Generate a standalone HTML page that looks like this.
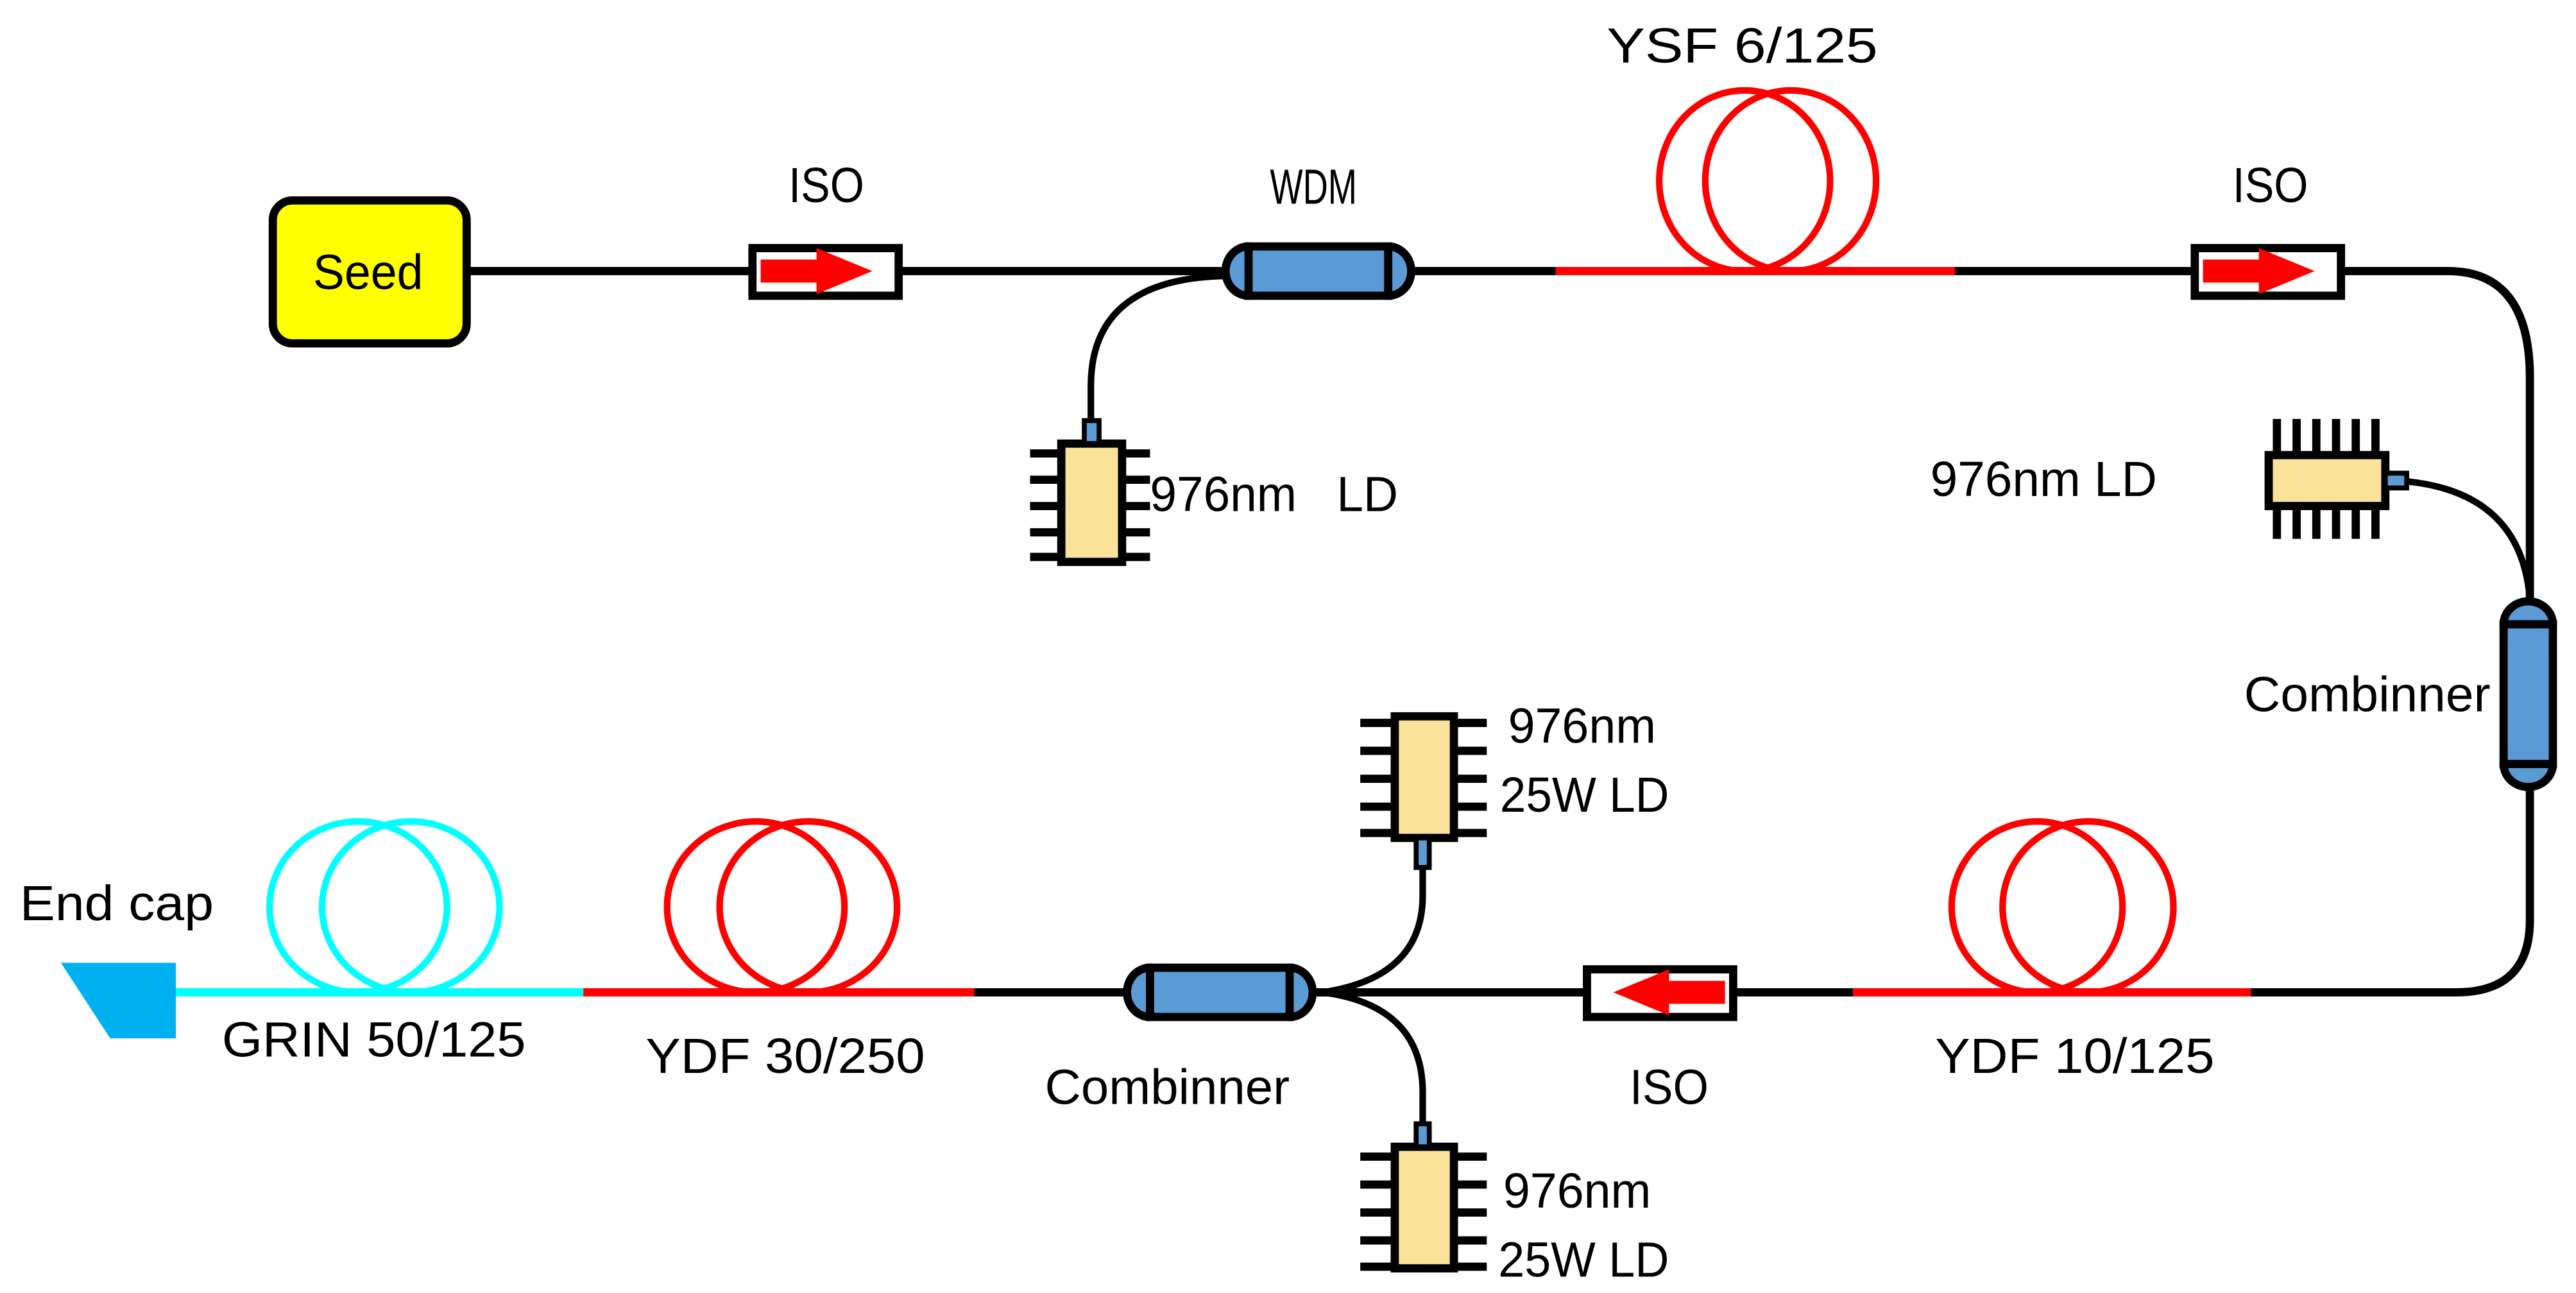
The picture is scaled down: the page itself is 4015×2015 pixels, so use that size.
<!DOCTYPE html>
<html><head><meta charset="utf-8"><style>
html,body{margin:0;padding:0;background:#fff;}
svg{display:block;}
text{font-family:"Liberation Sans",sans-serif;font-size:30px;fill:#000;}
</style></head><body>
<svg width="4015" height="2015" viewBox="0 0 1568 787" xmlns="http://www.w3.org/2000/svg">
<rect width="1568" height="787" fill="#fff"/>
<g fill="none" stroke-linecap="butt">
<path d="M284,165 H457 M547,165 H745 M860,165 H947 M1190,165 H1335" stroke="#000" stroke-width="5"/>
<path d="M947,165 H1190" stroke="#f00" stroke-width="5"/>
<ellipse cx="1062" cy="110" rx="52" ry="55" stroke="#f00" stroke-width="4"/>
<ellipse cx="1090" cy="110" rx="52" ry="55" stroke="#f00" stroke-width="4"/>
<path d="M1425,165 H1490 Q1540,165 1540,230 V365" stroke="#000" stroke-width="5"/>
<path d="M1465,293 Q1535,300 1540,365" stroke="#000" stroke-width="4"/>
<path d="M1540,480 V560 Q1540,604 1495,604 H1370" stroke="#000" stroke-width="5"/>
<path d="M1370,604 H1128" stroke="#f00" stroke-width="5"/>
<ellipse cx="1240" cy="552" rx="52" ry="52" stroke="#f00" stroke-width="4"/>
<ellipse cx="1271" cy="552" rx="52" ry="52" stroke="#f00" stroke-width="4"/>
<path d="M1128,604 H1055 M965,604 H800" stroke="#000" stroke-width="5"/>
<path d="M866,528 V545 Q866,595 805,604" stroke="#000" stroke-width="4"/>
<path d="M866,684 V665 Q866,612 805,604" stroke="#000" stroke-width="4"/>
<path d="M685,604 H593" stroke="#000" stroke-width="5"/>
<path d="M593,604 H355" stroke="#f00" stroke-width="5"/>
<ellipse cx="460" cy="552" rx="54" ry="52" stroke="#f00" stroke-width="4"/>
<ellipse cx="492" cy="552" rx="54" ry="52" stroke="#f00" stroke-width="4"/>
<path d="M355,604 H107" stroke="#00ffff" stroke-width="5"/>
<ellipse cx="218" cy="552" rx="54" ry="52" stroke="#00ffff" stroke-width="4"/>
<ellipse cx="250" cy="552" rx="54" ry="52" stroke="#00ffff" stroke-width="4"/>
<path d="M664,256 V235 Q664,170 745,168" stroke="#000" stroke-width="4"/>
</g>
<polygon points="37,586 107,586 107,632 67,632" fill="#00b0f0"/>

<rect x="166" y="122" width="118" height="87" rx="12" fill="#ffff00" stroke="#000" stroke-width="5"/>
<text x="224" y="176" text-anchor="middle" textLength="67" lengthAdjust="spacingAndGlyphs">Seed</text>

<g stroke="#000" stroke-width="5">
<rect x="458" y="151" width="89" height="29" fill="#fff"/>
<rect x="1336" y="151" width="89" height="29" fill="#fff"/>
<rect x="966" y="590" width="89" height="29" fill="#fff"/>
</g>
<polygon points="463,158 497,158 497,151 531,165 497,179 497,172 463,172" fill="#f00"/>
<polygon points="1341,158 1375,158 1375,151 1409,165 1375,179 1375,172 1341,172" fill="#f00"/>
<polygon points="1050,597 1016,597 1016,590 982,604 1016,618 1016,611 1050,611" fill="#f00"/>

<g stroke="#000" stroke-width="5" fill="#5b9bd5">
<ellipse cx="760" cy="165" rx="14" ry="15"/><ellipse cx="845" cy="165" rx="14" ry="15"/>
<rect x="760" y="150" width="85" height="30"/>
<ellipse cx="700" cy="604" rx="14" ry="15"/><ellipse cx="785" cy="604" rx="14" ry="15"/>
<rect x="700" y="589" width="85" height="30"/>
<ellipse cx="1539" cy="380" rx="15" ry="14"/><ellipse cx="1539" cy="465" rx="15" ry="14"/>
<rect x="1524" y="380" width="30" height="85"/>
</g>

<g stroke="#000" stroke-width="5">
<path d="M627,276 H700 M627,292 H700 M627,308 H700 M627,324 H700 M627,339 H700"/>
<rect x="646" y="270" width="37" height="72" fill="#fbe29a"/>
<rect x="660" y="256" width="9" height="14" fill="#5b9bd5" stroke-width="3"/>
<path d="M1386,255 V328 M1398,255 V328 M1410,255 V328 M1422,255 V328 M1434,255 V328 M1446,255 V328"/>
<rect x="1381" y="277" width="71" height="31" fill="#fbe29a"/>
<rect x="1452" y="288" width="13" height="9" fill="#5b9bd5" stroke-width="3"/>
<path d="M828,440 H905 M828,457 H905 M828,474 H905 M828,491 H905 M828,507 H905"/>
<rect x="849" y="436" width="36" height="74" fill="#fbe29a"/>
<rect x="862" y="510" width="8" height="18" fill="#5b9bd5" stroke-width="3"/>
<path d="M828,704 H905 M828,721 H905 M828,738 H905 M828,755 H905 M828,771 H905"/>
<rect x="849" y="698" width="36" height="74" fill="#fbe29a"/>
<rect x="862" y="684" width="8" height="14" fill="#5b9bd5" stroke-width="3"/>
</g>

<text x="480" y="123" textLength="46" lengthAdjust="spacingAndGlyphs">ISO</text>
<text x="773" y="124" textLength="53" lengthAdjust="spacingAndGlyphs">WDM</text>
<text x="978" y="38" textLength="165" lengthAdjust="spacingAndGlyphs">YSF 6/125</text>
<text x="1359" y="123" textLength="46" lengthAdjust="spacingAndGlyphs">ISO</text>
<text x="700" y="311" textLength="151" lengthAdjust="spacingAndGlyphs" xml:space="preserve">976nm   LD</text>
<text x="1175" y="302" textLength="138" lengthAdjust="spacingAndGlyphs">976nm LD</text>
<text x="1366" y="433" textLength="150" lengthAdjust="spacingAndGlyphs">Combinner</text>
<text x="918" y="452" textLength="90" lengthAdjust="spacingAndGlyphs">976nm</text>
<text x="913" y="494" textLength="103" lengthAdjust="spacingAndGlyphs">25W LD</text>
<text x="12" y="560" textLength="118" lengthAdjust="spacingAndGlyphs">End cap</text>
<text x="135" y="643" textLength="185" lengthAdjust="spacingAndGlyphs">GRIN 50/125</text>
<text x="393" y="653" textLength="170" lengthAdjust="spacingAndGlyphs">YDF 30/250</text>
<text x="636" y="672" textLength="149" lengthAdjust="spacingAndGlyphs">Combinner</text>
<text x="992" y="672" textLength="48" lengthAdjust="spacingAndGlyphs">ISO</text>
<text x="1178" y="653" textLength="170" lengthAdjust="spacingAndGlyphs">YDF 10/125</text>
<text x="915" y="735" textLength="90" lengthAdjust="spacingAndGlyphs">976nm</text>
<text x="912" y="777" textLength="104" lengthAdjust="spacingAndGlyphs">25W LD</text>
</svg>
</body></html>
